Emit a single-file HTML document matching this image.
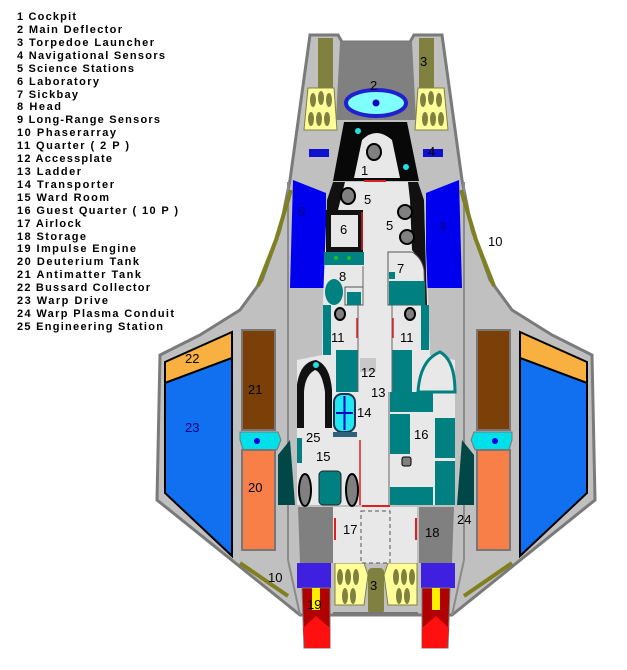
<!DOCTYPE html>
<html><head><meta charset="utf-8"><style>
html,body{margin:0;padding:0;background:#fff;width:627px;height:670px;overflow:hidden}
svg{display:block}
.l{font-family:"Liberation Sans",sans-serif;font-weight:bold;font-size:11px;fill:#000}
.n{font-family:"Liberation Sans",sans-serif;font-size:13px;fill:#000}
</style></head><body>
<svg width="627" height="670" viewBox="0 0 627 670" xmlns="http://www.w3.org/2000/svg">
<g class="l">
<text x="17" y="20" textLength="59">1 Cockpit</text>
<text x="17" y="33" textLength="105">2 Main Deflector</text>
<text x="17" y="46" textLength="137">3 Torpedoe Launcher</text>
<text x="17" y="59" textLength="148">4 Navigational Sensors</text>
<text x="17" y="72" textLength="117">5 Science Stations</text>
<text x="17" y="85" textLength="82">6 Laboratory</text>
<text x="17" y="98" textLength="61">7 Sickbay</text>
<text x="17" y="110" textLength="44">8 Head</text>
<text x="17" y="123" textLength="143">9 Long-Range Sensors</text>
<text x="17" y="136" textLength="99">10 Phaserarray</text>
<text x="17" y="149" textLength="112">11 Quarter ( 2 P )</text>
<text x="17" y="162" textLength="95">12 Accessplate</text>
<text x="17" y="175" textLength="64">13 Ladder</text>
<text x="17" y="188" textLength="97">14 Transporter</text>
<text x="17" y="201" textLength="92">15 Ward Room</text>
<text x="17" y="214" textLength="161">16 Guest Quarter ( 10 P )</text>
<text x="17" y="227" textLength="64">17 Airlock</text>
<text x="17" y="240" textLength="69">18 Storage</text>
<text x="17" y="252" textLength="119">19 Impulse Engine</text>
<text x="17" y="265" textLength="122">20 Deuterium Tank</text>
<text x="17" y="278" textLength="124">21 Antimatter Tank</text>
<text x="17" y="291" textLength="133">22 Bussard Collector</text>
<text x="17" y="304" textLength="91">23 Warp Drive</text>
<text x="17" y="317" textLength="157">24 Warp Plasma Conduit</text>
<text x="17" y="330" textLength="146">25 Engineering Station</text>
</g>

<path d="M310,35 L338,35 L342,42 L410,42 L414,35 L442,35 L462,180 L472,230 L490,280 L512,310 L552,335 L592,355 L595,500 L452,615 L300,615 L157,500 L160,355 L200,335 L240,310 L262,280 L280,230 L290,180 Z" fill="#c0c0c0" stroke="#7a7a7a" stroke-width="3"/>

<g id="half">
 <line x1="288" y1="182" x2="288" y2="560" stroke="#8a8a8a" stroke-width="2"/>
 <line x1="288" y1="560" x2="300" y2="615" stroke="#8a8a8a" stroke-width="2"/>
 <rect x="318" y="38" width="15" height="50" fill="#808040"/>
 <path d="M308,88 L334,88 L337,130 L304,130 Z" fill="#ffff99" stroke="#808040"/>
 <g fill="#808040"><ellipse cx="313" cy="100" rx="3" ry="7"/><ellipse cx="321" cy="98" rx="3" ry="7"/><ellipse cx="329" cy="100" rx="3" ry="7"/><ellipse cx="311" cy="119" rx="3" ry="7"/><ellipse cx="319" cy="119" rx="3" ry="7"/><ellipse cx="327" cy="119" rx="3" ry="7"/></g>
 <rect x="309" y="149" width="20" height="8" fill="#1010d0"/>
 <path d="M293,180 L326,193 L326,288 L290,288 Z" fill="#0000ee"/>
 <path d="M291,190 L276,240 L258,286" stroke="#808020" stroke-width="4" fill="none"/>
 <line x1="240" y1="563" x2="288" y2="596" stroke="#808020" stroke-width="4"/>
 <path d="M165,362 L232,332 L232,358 L165,383 Z" fill="#f8b040" stroke="#000" stroke-width="2"/>
 <path d="M165,383 L232,358 L232,556 L165,493 Z" fill="#1070f0" stroke="#000" stroke-width="2"/>
 <rect x="242" y="330" width="33" height="100" fill="#7a4008" stroke="#777" stroke-width="2"/>
 <path d="M240,432 L278,432 L281,440 L277,450 L243,450 L240,440 Z" fill="#00e0e8" stroke="#777"/>
 <circle cx="257" cy="441" r="3" fill="#0000e0"/>
 <rect x="242" y="450" width="33" height="100" fill="#f88048" stroke="#777" stroke-width="2"/>
 <path d="M278,455 L290,440 L295,505 L278,505 Z" fill="#004848"/>
 <path d="M298,507 L333,507 L333,563 L300,563 Z" fill="#808080"/>
 <rect x="297" y="563" width="34" height="25" fill="#4020e0"/>
 <path d="M302,588 L330,588 L330,648 L304,648 Z" fill="#b00000" stroke="#777"/>
 <path d="M303,628 L316,616 L330,628 L330,648 L305,648 Z" fill="#ff1010"/>
 <rect x="312" y="588" width="8" height="22" fill="#ffee00"/>
 <path d="M335,563 L364,563 L368,575 L364,605 L335,605 Z" fill="#ffff99" stroke="#808040"/>
 <g fill="#808040"><ellipse cx="340" cy="577" rx="3" ry="8"/><ellipse cx="348" cy="577" rx="3" ry="8"/><ellipse cx="356" cy="577" rx="3" ry="8"/><ellipse cx="345" cy="596" rx="3" ry="8"/><ellipse cx="353" cy="596" rx="3" ry="8"/></g>
</g>
<use href="#half" transform="matrix(-1 0 0 1 752 0)"/>

<path d="M340,42 L412,42 L416,120 L336,120 Z" fill="#808080"/>
<ellipse cx="376" cy="103" rx="30" ry="13" fill="#80ffff" stroke="#2020d0" stroke-width="4"/>
<circle cx="376" cy="103" r="3.5" fill="#0000c0"/>

<path d="M344,122 L407,122 L419,181 L333,181 Z" fill="#080808"/>
<path d="M362,140 Q376,126 392,140 L400,178 L354,178 Z" fill="#e8e8e8"/>
<ellipse cx="374" cy="152" rx="7" ry="8" fill="#808080" stroke="#000" stroke-width="2"/>
<circle cx="358" cy="131" r="3" fill="#20e0e0"/><circle cx="406" cy="167" r="3" fill="#20e0e0"/>
<line x1="364" y1="181" x2="386" y2="181" stroke="#e02020" stroke-width="2"/>

<path d="M333,182 L418,182 L424,200 L428,300 L430,355 L455,360 L455,505 L297,505 L297,360 L322,355 L323,300 L327,200 Z" fill="#e8e8e8"/>
<path d="M333,182 L345,182 L338,210 L333,250 L326,250 L327,200 Z" fill="#111"/>
<path d="M408,182 L418,182 L424,200 L427,305 L423,305 L420,260 L412,250 L410,200 Z" fill="#111"/>
<ellipse cx="348" cy="196" rx="7" ry="8" fill="#808080" stroke="#000" stroke-width="2"/>
<ellipse cx="405" cy="212" rx="7" ry="7" fill="#808080" stroke="#000" stroke-width="2"/>
<ellipse cx="407" cy="237" rx="7" ry="7" fill="#808080" stroke="#000" stroke-width="2"/>
<rect x="326" y="210" width="37" height="42" fill="#111"/>
<rect x="331" y="215" width="27" height="32" fill="#e8e8e8"/>
<line x1="362" y1="212" x2="362" y2="250" stroke="#e02020" stroke-width="1.5"/>
<rect x="324" y="252" width="40" height="13" fill="#008080"/>
<circle cx="336" cy="258" r="2" fill="#20c020"/><circle cx="349" cy="258" r="2" fill="#20c020"/>
<ellipse cx="334" cy="292" rx="9" ry="13" fill="#008080"/>
<rect x="345" y="287" width="18" height="18" fill="none" stroke="#555"/>
<rect x="347" y="292" width="14" height="13" fill="#008080"/>
<line x1="363" y1="266" x2="363" y2="305" stroke="#666"/>
<path d="M388,252 L412,252 Q422,258 424,270 L425,305 L388,305 Z" fill="#e8e8e8" stroke="#555"/>
<rect x="389" y="281" width="36" height="24" fill="#008080"/>
<rect x="389" y="272" width="6" height="7" fill="#008080"/>
<rect x="323" y="305" width="8" height="50" fill="#008080"/>
<rect x="336" y="350" width="22" height="42" fill="#008080"/>
<rect x="392" y="350" width="20" height="42" fill="#008080"/>
<rect x="421" y="305" width="8" height="45" fill="#008080"/>
<line x1="358" y1="305" x2="358" y2="392" stroke="#666"/>
<line x1="392" y1="305" x2="392" y2="392" stroke="#666"/>
<line x1="357" y1="318" x2="357" y2="338" stroke="#e02020" stroke-width="1.5"/>
<line x1="393" y1="318" x2="393" y2="338" stroke="#e02020" stroke-width="1.5"/>
<ellipse cx="340" cy="314" rx="5" ry="6" fill="#808080" stroke="#000" stroke-width="2"/>
<ellipse cx="410" cy="314" rx="5" ry="6" fill="#808080" stroke="#000" stroke-width="2"/>
<rect x="360" y="358" width="16" height="14" fill="#c8c8c8"/>
<path d="M297,428 L297,385 Q300,362 316,360 Q330,365 332,390 L332,428 L325,428 L325,392 Q322,372 315,370 Q305,375 304,392 L304,428 Z" fill="#111"/>
<circle cx="316" cy="365" r="3" fill="#20e0e0"/>
<path d="M418,392 Q420,360 440,352 Q455,360 455,392 Z" fill="#e8e8e8" stroke="#008080" stroke-width="3"/>
<rect x="334" y="394" width="21" height="38" rx="8" fill="#20e8f0" stroke="#203050" stroke-width="2"/>
<line x1="344.5" y1="396" x2="344.5" y2="430" stroke="#0000c0" stroke-width="2"/>
<line x1="336" y1="413" x2="353" y2="413" stroke="#0000c0" stroke-width="2"/>
<rect x="333" y="432" width="24" height="5" fill="#30607a"/>
<ellipse cx="305" cy="490" rx="6" ry="16" fill="#808080" stroke="#000" stroke-width="2"/>
<ellipse cx="352" cy="490" rx="6" ry="16" fill="#808080" stroke="#000" stroke-width="2"/>
<rect x="319" y="471" width="22" height="34" rx="4" fill="#008080" stroke="#222"/>
<rect x="297" y="438" width="5" height="25" fill="#008080"/>
<line x1="360" y1="440" x2="360" y2="505" stroke="#e02020" stroke-width="1.5"/>
<rect x="390" y="392" width="43" height="20" fill="#008080"/>
<rect x="390" y="414" width="20" height="40" fill="#008080"/>
<rect x="435" y="418" width="20" height="40" fill="#008080"/>
<rect x="435" y="461" width="20" height="44" fill="#008080"/>
<rect x="390" y="487" width="43" height="18" fill="#008080"/>
<rect x="402" y="457" width="9" height="9" rx="2" fill="#808080" stroke="#000"/>
<line x1="389" y1="392" x2="389" y2="505" stroke="#666"/>

<rect x="333" y="507" width="84" height="56" fill="#e8e8e8"/>
<rect x="361" y="511" width="29" height="52" fill="none" stroke="#555" stroke-dasharray="4,3"/>
<line x1="335" y1="518" x2="335" y2="540" stroke="#e02020" stroke-width="2"/>
<line x1="416" y1="518" x2="416" y2="540" stroke="#e02020" stroke-width="2"/>
<line x1="362" y1="506" x2="390" y2="506" stroke="#e02020" stroke-width="2"/>
<rect x="368" y="568" width="16" height="46" rx="4" fill="#808040"/>
<line x1="333" y1="613" x2="418" y2="613" stroke="#777" stroke-width="2"/>

<g class="n">
<text x="370" y="90">2</text><text x="420" y="66">3</text><text x="428" y="156">4</text>
<text x="361" y="175">1</text><text x="364" y="204">5</text><text x="386" y="230">5</text>
<text x="340" y="234">6</text><text x="397" y="273">7</text><text x="339" y="281">8</text>
<text x="298" y="216" fill="#000080">9</text><text x="439" y="231" fill="#000080">9</text>
<text x="488" y="246">10</text><text x="331" y="342">11</text><text x="400" y="342">11</text>
<text x="361" y="377">12</text><text x="371" y="397">13</text><text x="357" y="417">14</text>
<text x="306" y="442">25</text><text x="316" y="461">15</text><text x="414" y="439">16</text>
<text x="185" y="363">22</text><text x="248" y="394">21</text><text x="185" y="432" fill="#000080">23</text>
<text x="248" y="492">20</text><text x="457" y="524">24</text>
<text x="343" y="534">17</text><text x="425" y="537">18</text>
<text x="268" y="582">10</text><text x="370" y="590">3</text><text x="307" y="609">19</text>
</g>
</svg>
</body></html>
